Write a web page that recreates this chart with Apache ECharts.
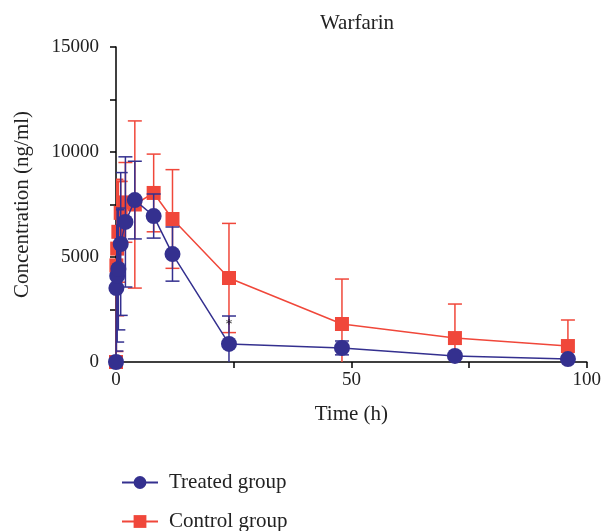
<!DOCTYPE html>
<html>
<head>
<meta charset="utf-8">
<script src="https://cdn.jsdelivr.net/npm/echarts@6/dist/echarts.min.js"></script>
<style>html,body{margin:0;padding:0;background:#fff}#c{width:604px;height:531px}</style>
</head>
<body>
<div id="c"></div>
<script>
const time = [0, 0.083, 0.25, 0.5, 1, 2, 4, 8, 12, 24, 48, 72, 96];
const treatedMean = [0, 3520, 4100, 4430, 5620, 6670, 7710, 6950, 5140, 860, 670, 290, 140];
const treatedSD   = [0, 3000, 3150, 2900, 3400, 3100, 1850, 1050, 1290, 1330, 330, 100, 60];
const controlMean = [0, 4600, 5400, 6200, 7100, 7600, 7500, 8050, 6810, 4000, 1810, 1140, 760];
const controlSD   = [0, 4100, 3200, 2400, 1500, 1900, 3980, 1850, 2350, 2600, 2140, 1620, 1240];
const sigTime = [24];
const sigValue = [1760];
const xTicks = [0, 50, 100];
const yTicks = [0, 5000, 10000, 15000];

const BLUE = '#34308f';
const RED = '#f0473a';
const FONT = "'Liberation Serif','DejaVu Serif',serif";

function pairs(xs, ys){ return xs.map((x,i)=>[x, ys[i]]); }
function errData(xs, m, sd){ return xs.map((x,i)=>[x, m[i]-sd[i], m[i]+sd[i]]); }
function errRender(color){
  return function(params, api){
    const x = api.value(0), lo = api.value(1), hi = api.value(2);
    const a = api.coord([x, hi]), b = api.coord([x, lo]);
    const w = 7;
    const st = {stroke: color, lineWidth: 1.5, fill: null};
    return {type:'group', children:[
      {type:'line', shape:{x1:a[0],y1:a[1],x2:b[0],y2:b[1]}, style:st},
      {type:'line', shape:{x1:a[0]-w,y1:a[1],x2:a[0]+w,y2:a[1]}, style:st},
      {type:'line', shape:{x1:b[0]-w,y1:b[1],x2:b[0]+w,y2:b[1]}, style:st}
    ]};
  };
}
const legendText = {fontFamily: FONT, fontSize: 21, color: '#222', padding: [0,0,0,6]};

const chart = echarts.init(document.getElementById('c'));
chart.setOption({
  animation: false,
  backgroundColor: '#fff',
  title: {text: 'Warfarin', left: 352, top: 8, textAlign: 'center',
    textStyle: {fontFamily: FONT, fontSize: 21, fontWeight: 'normal', color: '#222'}},
  grid: {left: 116, right: 16, top: 47, bottom: 169},
  legend: [
    {left: 116, top: 467, itemWidth: 36, itemHeight: 16, textStyle: legendText, data: ['Treated group']},
    {left: 116, top: 506, itemWidth: 36, itemHeight: 16, textStyle: legendText, data: ['Control group']}
  ],
  xAxis: {
    type: 'value', min: 0, max: 100, interval: 25,
    name: 'Time (h)', nameLocation: 'middle', nameGap: 42,
    nameTextStyle: {fontFamily: FONT, fontSize: 21, color: '#222'},
    axisLine: {lineStyle: {color: '#000', width: 1.5}},
    axisTick: {show: true, length: 6, lineStyle: {color: '#000', width: 1.5}},
    axisLabel: {fontFamily: FONT, fontSize: 19, color: '#222', margin: 9,
      formatter: v => xTicks.includes(v) ? String(v) : ''},
    splitLine: {show: false}
  },
  yAxis: {
    type: 'value', min: 0, max: 15000, interval: 2500,
    name: 'Concentration (ng/ml)', nameLocation: 'middle', nameGap: 83,
    nameTextStyle: {fontFamily: FONT, fontSize: 21, color: '#222'},
    axisLine: {show: true, lineStyle: {color: '#000', width: 1.5}},
    axisTick: {show: true, length: 6, lineStyle: {color: '#000', width: 1.5}},
    axisLabel: {fontFamily: FONT, fontSize: 19, color: '#222', margin: 17,
      formatter: v => yTicks.includes(v) ? String(v) : ''},
    splitLine: {show: false}
  },
  series: [
    {type: 'custom', name: 'ctrlErr', renderItem: errRender(RED), clip: true,
      data: errData(time, controlMean, controlSD), z: 1, silent: true},
    {type: 'line', name: 'Control group', data: pairs(time, controlMean), color: RED,
      symbol: 'rect', symbolSize: 14, lineStyle: {width: 1.5, color: RED},
      itemStyle: {color: RED}, z: 2},
    {type: 'custom', name: 'trtErr', renderItem: errRender(BLUE), clip: true,
      data: errData(time, treatedMean, treatedSD), z: 3, silent: true},
    {type: 'line', name: 'Treated group', data: pairs(time, treatedMean), color: BLUE,
      symbol: 'circle', symbolSize: 16, lineStyle: {width: 1.5, color: BLUE},
      itemStyle: {color: BLUE}, z: 4},
    {type: 'scatter', name: 'sig', data: pairs(sigTime, sigValue), symbolSize: 1,
      itemStyle: {color: 'rgba(0,0,0,0)'}, z: 5,
      label: {show: true, formatter: '*', position: 'inside', color: '#000', fontSize: 14, fontFamily: FONT}}
  ]
});
</script>
</body>
</html>
